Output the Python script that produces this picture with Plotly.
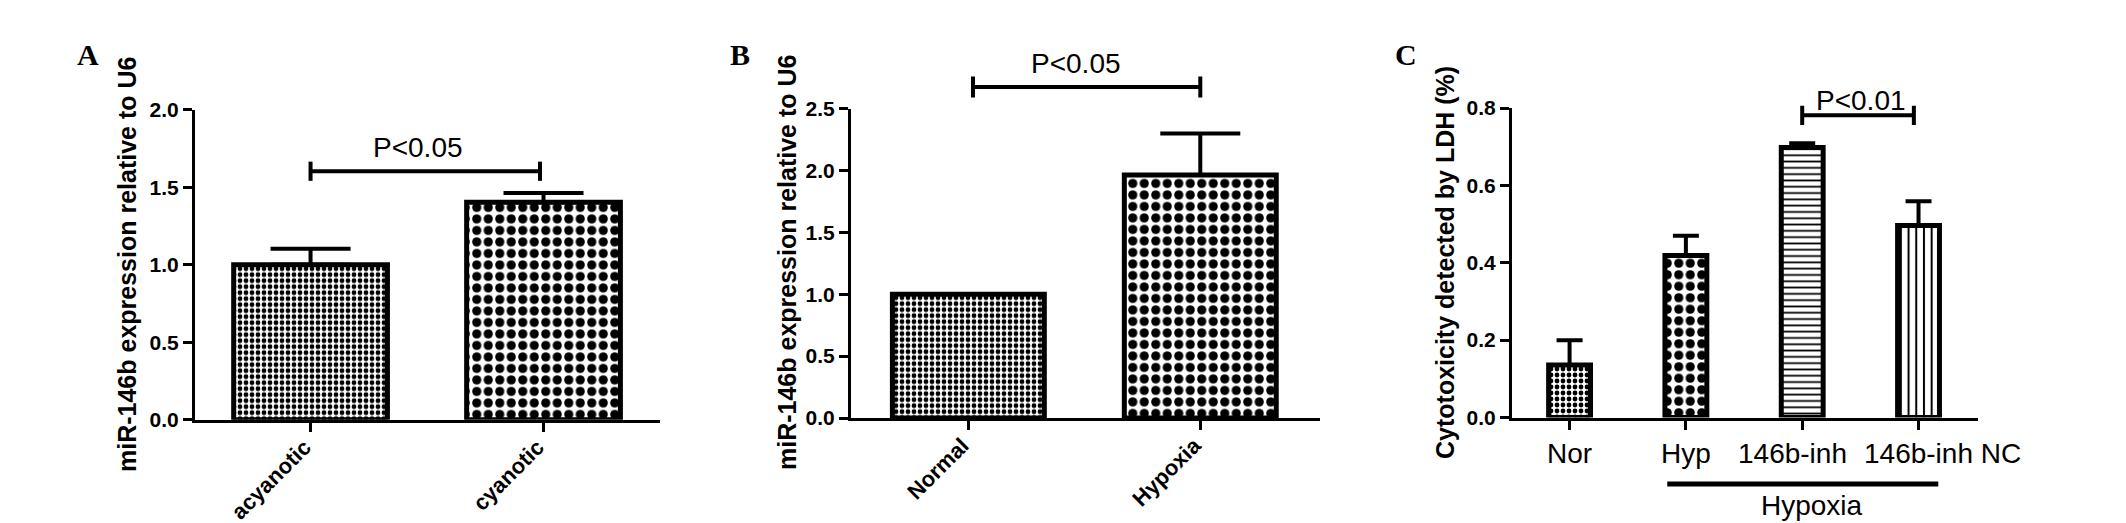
import plotly.graph_objects as go

W, H = 2126, 523

# ---------------- data ----------------
# Panel A
a_categories = ["acyanotic", "cyanotic"]
a_values = [1.00, 1.403]
a_errors = [0.103, 0.060]
a_yticks = [0.0, 0.5, 1.0, 1.5, 2.0]
a_ymax = 2.0
a_ytitle = "miR-146b expression relative to U6"
a_ptext = "P<0.05"
a_pbar = 1.603

# Panel B
b_categories = ["Normal", "Hypoxia"]
b_values = [1.00, 1.965]
b_errors = [0.0, 0.335]
b_yticks = [0.0, 0.5, 1.0, 1.5, 2.0, 2.5]
b_ymax = 2.5
b_ytitle = "miR-146b expression relative to U6"
b_ptext = "P<0.05"
b_pbar = 2.675

# Panel C
c_categories = ["Nor", "Hyp", "146b-inh", "146b-inh NC"]
c_values = [0.136, 0.419, 0.698, 0.496]
c_errors = [0.064, 0.051, 0.011, 0.063]
c_yticks = [0.0, 0.2, 0.4, 0.6, 0.8]
c_ymax = 0.8
c_ytitle = "Cytotoxicity detected by LDH (%)"
c_ptext = "P<0.01"
c_pbar = 0.781
c_group = "Hypoxia"

panel_letters = ["A", "B", "C"]

# ---------------- helpers ----------------
def fx(p):
    return p / W


def fy(p):
    return 1 - p / H


BOLD = dict(family="Liberation Sans, Arial, sans-serif", color="black", weight="bold")
REG = dict(family="Liberation Sans, Arial, sans-serif", color="black")

fine = dict(shape=".", size=6, solidity=0.5)
coarse = dict(shape=".", size=11.5, solidity=0.5)
hlines = dict(shape="-", size=6.3, solidity=0.28)
vlines = dict(shape="|", size=7.7, solidity=0.26)


def patt(styles):
    return dict(
        shape=[s["shape"] for s in styles],
        size=[s["size"] for s in styles],
        solidity=[s["solidity"] for s in styles],
        fgcolor="black",
        bgcolor="white",
        fillmode="replace",
    )


fig = go.Figure()


def add_bars(cats, vals, errs, styles, width, capw, xa, ya):
    fig.add_trace(
        go.Bar(
            x=list(range(len(cats))),
            y=vals,
            width=width,
            marker=dict(color="white", line=dict(color="black", width=5), pattern=patt(styles)),
            error_y=dict(
                type="data",
                array=errs,
                arrayminus=[0] * len(errs),
                symmetric=False,
                color="black",
                thickness=4,
                width=capw,
            ),
            xaxis=xa,
            yaxis=ya,
            showlegend=False,
            hoverinfo="skip",
        )
    )


add_bars(a_categories, a_values, a_errors, [fine, coarse], 0.66, 40, "x", "y")
add_bars(b_categories, b_values, b_errors, [fine, coarse], 0.655, 40, "x2", "y2")
add_bars(c_categories, c_values, c_errors, [fine, coarse, hlines, vlines], 0.36, 13, "x3", "y3")


def xaxis_cfg(domain, rng, cats, angle, show_labels=True):
    return dict(
        domain=domain,
        range=rng,
        tickvals=list(range(len(cats))),
        ticktext=cats,
        tickangle=angle,
        showticklabels=show_labels,
        tickfont=dict(size=22, **BOLD),
        ticklabelshift=-6,
        ticklabelstandoff=-6,
        showline=True,
        linewidth=3,
        linecolor="black",
        ticks="outside",
        ticklen=9,
        tickwidth=3,
        tickcolor="black",
        showgrid=False,
        zeroline=False,
        fixedrange=True,
        automargin=False,
    )


def yaxis_cfg(domain, ymax, ticks, anchor):
    return dict(
        domain=domain,
        range=[0, ymax],
        tickvals=ticks,
        tickformat=".1f",
        tickfont=dict(size=21, **BOLD),
        showline=True,
        linewidth=3,
        linecolor="black",
        ticks="outside",
        ticklen=9,
        tickwidth=3,
        tickcolor="black",
        showgrid=False,
        zeroline=False,
        fixedrange=True,
        automargin=False,
        anchor=anchor,
    )


fig.update_layout(
    template="none",
    width=W,
    height=H,
    margin=dict(l=0, r=0, t=0, b=0, pad=0),
    paper_bgcolor="white",
    plot_bgcolor="white",
    showlegend=False,
    xaxis=dict(anchor="y", **xaxis_cfg([fx(187), fx(652)], [-0.496, 1.5], a_categories, -45)),
    yaxis=yaxis_cfg([fy(411.7), fy(101.7)], a_ymax, a_yticks, "x"),
    xaxis2=dict(anchor="y2", **xaxis_cfg([fx(843), fx(1311.5)], [-0.506, 1.514], b_categories, -45)),
    yaxis2=yaxis_cfg([fy(410), fy(100.7)], b_ymax, b_yticks, "x2"),
    xaxis3=dict(anchor="y3", **xaxis_cfg([fx(1504), fx(1969.5)], [-0.495, 3.507], c_categories, 0, False)),
    yaxis3=yaxis_cfg([fy(409.5), fy(100)], c_ymax, c_yticks, "x3"),
)

shapes = []
annotations = []


def bracket(xref, yref, x0, x1, yval, ymax, cap):
    line = dict(color="black", width=4)
    shapes.append(dict(type="line", xref=xref, yref=yref, x0=x0, x1=x1,
                       y0=yval / ymax, y1=yval / ymax, line=line))
    for xx in (x0, x1):
        shapes.append(dict(type="line", xref=xref, yref=yref, x0=xx, x1=xx,
                           y0=(yval - cap) / ymax, y1=(yval + cap) / ymax, line=line))


bracket("x", "y domain", 0, 0.985, a_pbar, a_ymax, 0.062)
bracket("x2", "y2 domain", 0.02, 1.0, b_pbar, b_ymax, 0.085)
bracket("x3", "y3 domain", 2.0, 2.96, c_pbar, c_ymax, 0.025)

ctr = dict(xanchor="center", yanchor="middle", showarrow=False)

annotations.append(dict(text=a_ptext, xref="x", yref="y domain", x=0.461, y=1.753 / a_ymax,
                        font=dict(size=28, **REG), **ctr))
annotations.append(dict(text=b_ptext, xref="x2", yref="y2 domain", x=0.464, y=2.863 / b_ymax,
                        font=dict(size=28, **REG), **ctr))
annotations.append(dict(text=c_ptext, xref="x3", yref="y3 domain", x=2.506, y=0.819 / c_ymax,
                        font=dict(size=28, **REG), **ctr))

# Panel C category labels (drawn as annotations so they can be nudged apart)
c_label_shift = {"Nor": 0, "Hyp": 0, "146b-inh": -10, "146b-inh NC": 24}
for i, lab in enumerate(c_categories):
    annotations.append(dict(text=lab, xref="x3", yref="paper", x=i, y=fy(445),
                            xshift=c_label_shift[lab], font=dict(size=28, **REG), **ctr))

# Hypoxia group underline and label
shapes.append(dict(type="line", xref="x3", yref="paper", x0=1 - 0.16, x1=3 + 0.17,
                   y0=fy(476), y1=fy(476), line=dict(color="black", width=5)))
annotations.append(dict(text=c_group, xref="x3", yref="paper", x=2.084, y=fy(497),
                        font=dict(size=28, **REG), **ctr))

# y-axis titles
for txt, xc, yc in [(a_ytitle, 119, 257), (b_ytitle, 779, 255), (c_ytitle, 1437, 255)]:
    annotations.append(dict(text=txt, xref="paper", yref="paper", x=fx(xc), y=fy(yc),
                            textangle=-90, font=dict(size=25, **BOLD), **ctr))

# panel letters
for letter, xc in zip(panel_letters, [80, 732, 1398]):
    annotations.append(dict(text=letter, xref="paper", yref="paper", x=fx(xc), y=fy(47),
                            font=dict(family="Liberation Serif, Times New Roman, serif",
                                      size=30, color="black", weight="bold"), **ctr))

fig.update_layout(shapes=shapes, annotations=annotations)

fig.write_html("out.html")
